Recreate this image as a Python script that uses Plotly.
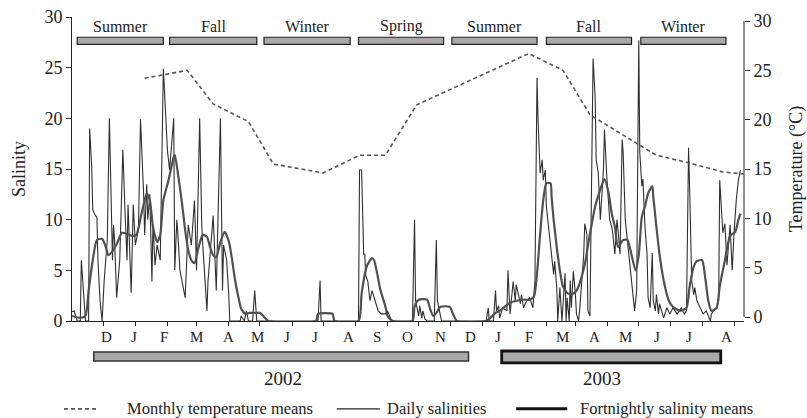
import pandas as pd
import plotly.graph_objects as go

START = pd.Timestamp("2001-11-01")
END_DAY = 647.4
FONT = "Liberation Serif"

# Daily salinity: day offset from START and value
sal_day = [0, 2, 5, 8, 9, 12, 13, 16, 17, 19, 20, 22, 24, 25, 27, 29, 31, 34, 36, 39,
           40, 41, 43, 46, 49, 51, 53, 54, 57, 59, 61, 64, 66, 69, 70, 72, 73, 75, 77, 78,
           80, 82, 85, 88, 91, 92, 94, 98, 99, 101, 102, 104, 109, 112, 115, 118, 120, 123, 125, 126,
           130, 131, 136, 137, 139, 143, 145, 146, 149, 151, 152, 162, 163, 166, 168, 170, 174, 176, 178, 237,
           239, 240, 276, 277, 279, 281, 282, 283, 285, 287, 289, 292, 295, 298, 302, 304, 308, 328, 330, 331,
           334, 335, 337, 338, 340, 342, 349, 351, 352, 355, 356, 399, 401, 402, 406, 408, 409, 411, 412, 415,
           419, 420, 422, 425, 427, 428, 432, 433, 435, 438, 441, 444, 446, 448, 449, 451, 453, 454, 456, 457,
           459, 461, 462, 464, 465, 467, 468, 470, 472, 473, 475, 476, 477, 479, 480, 481, 483, 485, 486, 488,
           489, 493, 494, 496, 497, 499, 502, 504, 505, 507, 509, 512, 513, 515, 517, 518, 520, 521, 523, 525,
           526, 528, 530, 531, 533, 535, 536, 538, 539, 541, 542, 544, 546, 547, 549, 550, 552, 554, 555, 557,
           559, 560, 562, 563, 565, 566, 570, 573, 576, 579, 583, 587, 590, 592, 594, 595, 597, 599, 600, 602,
           605, 608, 611, 615, 616, 618, 621, 623, 624, 626, 627, 629, 631, 634, 636, 638, 640, 642, 644]
sal_daily = [0.9, 1.0, 0, 0, 6.0, 1.0, 0, 0, 19.0, 15.2, 11.0, 10.5, 10.2, 6.0, 2.0, 0, 4.0, 8.0, 20.0, 6.0,
             9.5, 8.0, 2.3, 6.0, 16.9, 11.0, 6.0, 11.5, 2.8, 11.5, 7.5, 9.0, 19.9, 12.5, 8.5, 13.5, 10.0, 12.5, 3.9, 9.5,
             5.5, 7.5, 6.0, 24.9, 17.8, 16.8, 14.9, 20.0, 5.0, 10.0, 8.6, 5.0, 2.3, 9.5, 7.5, 11.9, 5.0, 20.0, 9.5, 7.5,
             1.0, 3.9, 10.4, 7.5, 3.0, 20.0, 3.0, 7.5, 6.0, 2.6, 0, 0, 0.5, 0, 1.0, 0, 0, 3.0, 0, 0,
             4.0, 0, 0, 14.9, 14.9, 6.6, 6.6, 4.5, 3.9, 2.0, 3.0, 2.0, 1.0, 0.7, 0.7, 1.0, 0, 0, 10.0, 2.0,
             0.5, 1.5, 0.3, 1.0, 0.2, 0, 0, 8.0, 2.0, 0.5, 0, 0, 1.3, 0, 0, 3.0, 1.0, 1.5, 0.3, 1.3,
             1.0, 5.0, 0.7, 3.9, 2.0, 3.6, 1.7, 2.6, 1.3, 2.0, 2.3, 1.3, 4.0, 24.0, 19.8, 14.6, 15.9, 13.9, 14.9, 11.3,
             9.3, 7.3, 6.6, 4.6, 5.9, 3.3, 0, 3.3, 0, 2.0, 4.7, 0, 2.3, 0, 4.0, 1.3, 4.9, 2.6, 0.7, 0,
             1.0, 6.6, 9.6, 8.6, 1.0, 0.5, 25.9, 22.1, 15.9, 14.6, 10.0, 15.0, 18.9, 14.6, 11.3, 10.0, 9.3, 8.6, 6.6, 10.0,
             9.0, 6.6, 17.9, 16.6, 10.0, 8.0, 7.0, 5.0, 3.4, 2.0, 1.0, 3.0, 27.7, 16.6, 13.3, 14.0, 9.3, 6.6, 2.3, 1.3,
             6.7, 2.0, 1.0, 2.6, 0.7, 1.7, 0.3, 1.3, 0.7, 1.3, 0.7, 1.3, 0.7, 1.0, 17.1, 13.3, 4.0, 2.6, 3.3, 2.0,
             1.3, 0.7, 1.0, 0, 0.7, 1.0, 1.3, 2.0, 13.9, 9.9, 8.7, 9.6, 5.5, 9.5, 5.0, 9.0, 12.0, 13.9, 14.9]

# Fortnightly salinity means
fort_day = [0, 8, 13, 16, 20, 24, 29, 32, 35, 39, 44, 48, 53, 58, 62, 67, 72, 75, 78, 82,
            85, 88, 93, 98, 99, 102, 106, 109, 112, 115, 118, 122, 126, 130, 133, 136, 139, 143, 147, 151,
            154, 157, 160, 163, 167, 171, 176, 181, 186, 189, 235, 237, 251, 253, 276, 279, 284, 289, 291, 294,
            297, 302, 304, 309, 328, 330, 334, 342, 345, 348, 351, 355, 364, 367, 371, 399, 403, 408, 412, 422,
            435, 441, 445, 448, 451, 454, 457, 461, 462, 464, 467, 470, 473, 478, 483, 486, 489, 494, 499, 504,
            509, 513, 517, 520, 523, 526, 531, 535, 538, 543, 546, 549, 552, 555, 559, 560, 563, 566, 570, 575,
            579, 586, 592, 595, 599, 602, 607, 610, 613, 616, 621, 624, 629, 634, 639, 642, 644]
fort_mean = [0.5, 0.3, 0.5, 3.0, 6.0, 8.0, 8.1, 7.5, 6.5, 6.9, 7.8, 8.7, 8.6, 8.4, 8.5, 10.6, 12.6, 11.9, 9.3, 7.8,
             8.5, 11.9, 13.9, 16.2, 16.4, 14.6, 11.6, 9.0, 7.0, 6.0, 5.7, 7.3, 8.5, 8.3, 7.3, 6.5, 6.3, 7.8, 8.8, 7.9,
             6.2, 4.1, 2.5, 1.2, 0.7, 0.8, 0.8, 0.8, 0.3, 0, 0, 0.7, 0.7, 0, 0, 2.7, 5.4, 6.2, 6.0, 4.7,
             3.1, 1.4, 0.5, 0, 0, 1.4, 2.1, 2.1, 1.2, 0.5, 0.8, 1.4, 1.4, 0.7, 0, 0, 0.3, 0.8, 1.0, 1.8,
             2.1, 2.1, 2.4, 4.7, 8.6, 11.9, 13.6, 13.6, 12.3, 10.0, 7.3, 5.0, 3.4, 2.7, 2.7, 3.0, 3.7, 5.6, 8.6, 11.3,
             13.0, 14.0, 12.6, 10.6, 9.3, 7.3, 8.0, 8.0, 7.0, 5.0, 6.5, 10.3, 11.3, 12.6, 13.3, 12.3, 9.3, 6.6, 4.0, 2.0,
             1.4, 1.0, 1.3, 3.4, 5.4, 5.9, 6.0, 4.3, 2.0, 1.0, 1.3, 3.4, 6.0, 8.4, 8.8, 10.0, 10.6]

# Monthly temperature means (deg C)
temp_day = [70, 111, 136, 170, 194, 242, 277, 302, 332, 440, 473, 499, 544, 563, 595, 627, 647]
temp_mean = [24.2, 25.0, 21.6, 19.8, 15.5, 14.6, 16.4, 16.4, 21.5, 26.7, 25.0, 20.5, 17.6, 16.4, 15.6, 14.7, 14.5]

# Seasons along the top
season_names = ["Summer", "Fall", "Winter", "Spring", "Summer", "Fall", "Winter"]
season_start = [5, 94, 185, 276, 366, 457, 548]
season_end = [88, 178, 268, 358, 448, 539, 630]

# Month labels under the time axis
month_letters = ["D", "J", "F", "M", "A", "M", "J", "J", "A", "S", "O", "N",
                 "D", "J", "F", "M", "A", "M", "J", "J", "A"]
month_label_day = [33, 60, 89, 120, 151, 179, 207, 234, 266, 294, 323, 355,
                   384, 410, 440, 473, 503, 533, 564, 594, 631]

# Sampling years
years = ["2002", "2003"]
year_start = [21, 414]
year_end = [382, 625]
year_label_day = [203, 511]


def to_date(days):
    return [START + pd.Timedelta(days=float(d)) for d in days]


fig = go.Figure()

fig.add_trace(go.Scatter(
    x=to_date(temp_day), y=temp_mean, yaxis="y2", mode="lines",
    line=dict(color="#555555", width=1.6, dash="4px,3px"),
    name="Monthly temperature means", showlegend=False, hoverinfo="skip"))

fig.add_trace(go.Scatter(
    x=to_date(sal_day), y=sal_daily, mode="lines",
    line=dict(color="#303030", width=1.1),
    name="Daily salinities", showlegend=False, hoverinfo="skip"))

fig.add_trace(go.Scatter(
    x=to_date(fort_day), y=fort_mean, mode="lines",
    line=dict(color="#505050", width=2.2, shape="spline", smoothing=0.6),
    name="Fortnightly salinity means", showlegend=False, hoverinfo="skip"))

shapes = []
annotations = []

# season bars and names
for name, s, e in zip(season_names, season_start, season_end):
    shapes.append(dict(type="rect", xref="x", yref="y",
                       x0=START + pd.Timedelta(days=s), x1=START + pd.Timedelta(days=e),
                       y0=27.3, y1=28.0, fillcolor="#a9a9a9",
                       line=dict(color="#222222", width=1.2), layer="above"))
    annotations.append(dict(x=START + pd.Timedelta(days=(s + e) / 2), y=29.1,
                            xref="x", yref="y", text=name, showarrow=False,
                            font=dict(family=FONT, size=16, color="#222222")))

# month letters
for letter, d in zip(month_letters, month_label_day):
    annotations.append(dict(x=START + pd.Timedelta(days=d), y=-0.052,
                            xref="x", yref="paper", text=letter, showarrow=False,
                            yanchor="middle",
                            font=dict(family=FONT, size=15, color="#222222")))

# year bars
year_styles = [dict(y0=-0.1316, y1=-0.102, width=1.5, color="#333333"),
               dict(y0=-0.138, y1=-0.0987, width=2.8, color="#111111")]
for yr, s, e, lab, st in zip(years, year_start, year_end, year_label_day, year_styles):
    shapes.append(dict(type="rect", xref="x", yref="paper",
                       x0=START + pd.Timedelta(days=s), x1=START + pd.Timedelta(days=e),
                       y0=st["y0"], y1=st["y1"], fillcolor="#a9a9a9",
                       line=dict(color=st["color"], width=st["width"])))
    annotations.append(dict(x=START + pd.Timedelta(days=lab), y=-0.19,
                            xref="x", yref="paper", text=yr, showarrow=False,
                            yanchor="middle",
                            font=dict(family=FONT, size=19, color="#222222")))

# right-hand temperature axis line
shapes.append(dict(type="line", xref="paper", yref="y2", x0=1, x1=1, y0=0, y1=30,
                   line=dict(color="#222222", width=1)))

# legend row
LEG_Y = -0.289
legend_items = [
    ("Monthly temperature means", -0.0119, 0.0402, 0.0789, dict(color="#555555", width=1.6, dash="4px,3px")),
    ("Daily salinities", 0.394, 0.458, 0.4658, dict(color="#222222", width=1.2)),
    ("Fortnightly salinity means", 0.661, 0.737, 0.753, dict(color="#111111", width=3)),
]
for text, a, b, tx, ln in legend_items:
    shapes.append(dict(type="line", xref="paper", yref="paper", x0=a, x1=b,
                       y0=LEG_Y, y1=LEG_Y, line=ln))
    annotations.append(dict(x=tx, y=LEG_Y, xref="paper", yref="paper", text=text,
                            showarrow=False, xanchor="left", yanchor="middle",
                            font=dict(family=FONT, size=16.5, color="#222222")))

month_ticks = pd.date_range("2001-12-01", "2003-08-01", freq="MS")

fig.update_layout(
    width=807, height=418, autosize=False,
    margin=dict(l=72, r=63, t=17, b=97),
    paper_bgcolor="white", plot_bgcolor="white",
    font=dict(family=FONT, color="#222222"),
    showlegend=False,
    shapes=shapes, annotations=annotations,
    xaxis=dict(type="date", range=[START, START + pd.Timedelta(days=END_DAY)],
               showline=True, linecolor="#222222", linewidth=1,
               ticks="outside", ticklen=4, tickcolor="#222222",
               tickvals=list(month_ticks), showticklabels=False,
               showgrid=False, zeroline=False, automargin=False),
    yaxis=dict(range=[0, 30], tickvals=[0, 5, 10, 15, 20, 25, 30],
               showline=True, linecolor="#222222", linewidth=1,
               ticks="outside", ticklen=5, tickcolor="#222222",
               tickfont=dict(size=18), showgrid=False, zeroline=False, automargin=False,
               title=dict(text="Salinity", font=dict(size=18), standoff=14)),
    yaxis2=dict(overlaying="y", side="right", range=[-0.405, 30.405],
                tickvals=[0, 5, 10, 15, 20, 25, 30], showline=False,
                ticks="outside", ticklen=5, tickcolor="#222222",
                tickfont=dict(size=18), showgrid=False, zeroline=False, automargin=False,
                title=dict(text="Temperature (°C)", font=dict(size=18), standoff=21)),
)

fig.write_html("out.html")
